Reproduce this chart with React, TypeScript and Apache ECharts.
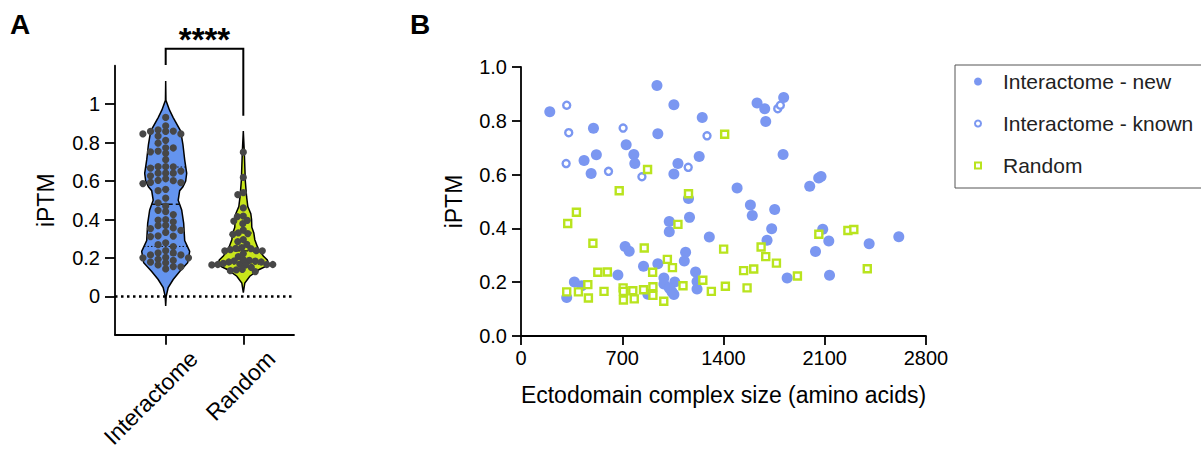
import { useEffect, useRef } from 'react';
import * as echarts from 'echarts';

// ---------- Panel B data: [ectodomain complex size (aa), iPTM] ----------
const interactomeNew: [number, number][] = [
  [199, 0.834], [501, 0.772], [436, 0.652], [521, 0.674], [485, 0.604], [727, 0.711], [780, 0.675],
  [787, 0.641], [940, 0.931], [946, 0.752], [1057, 0.86], [1085, 0.641], [1057, 0.602], [1253, 0.812],
  [1232, 0.667], [1158, 0.511], [1632, 0.866], [1685, 0.845], [1816, 0.887], [1692, 0.797], [1812, 0.675],
  [1494, 0.55], [1996, 0.557], [2058, 0.587], [2074, 0.593], [1586, 0.487], [1599, 0.448], [1754, 0.47],
  [1302, 0.368], [1733, 0.399], [1701, 0.356], [2086, 0.397], [2128, 0.353], [2036, 0.314], [2407, 0.343],
  [2612, 0.369], [1840, 0.216], [2133, 0.226], [1165, 0.441], [1025, 0.426], [1025, 0.388], [720, 0.333],
  [748, 0.315], [847, 0.259], [946, 0.269], [1138, 0.311], [1129, 0.279], [1207, 0.238], [670, 0.227],
  [988, 0.216], [1063, 0.201], [988, 0.193], [1217, 0.203], [1025, 0.178], [1044, 0.164], [1057, 0.154],
  [1217, 0.175], [877, 0.155], [369, 0.201], [420, 0.187], [316, 0.143],
];
const interactomeKnown: [number, number][] = [
  [316, 0.858], [330, 0.756], [312, 0.641], [605, 0.612], [706, 0.773], [836, 0.592], [1156, 0.627],
  [1286, 0.744], [1775, 0.845], [1793, 0.858],
];
const randomPairs: [number, number][] = [
  [323, 0.418], [383, 0.46], [497, 0.345], [531, 0.237], [597, 0.238], [679, 0.54], [875, 0.619],
  [1158, 0.529], [1408, 0.75], [1085, 0.415], [852, 0.327], [1012, 0.285], [1047, 0.254], [910, 0.237],
  [1120, 0.187], [912, 0.183], [847, 0.172], [706, 0.179], [708, 0.166], [773, 0.168], [708, 0.134],
  [783, 0.138], [574, 0.166], [987, 0.129], [912, 0.151], [1257, 0.207], [1316, 0.166], [316, 0.164],
  [397, 0.164], [466, 0.141], [462, 0.191], [1401, 0.323], [1660, 0.331], [1692, 0.295], [1766, 0.271],
  [1539, 0.243], [1609, 0.249], [1911, 0.223], [2059, 0.378], [2260, 0.392], [2301, 0.396], [2394, 0.25],
  [1413, 0.185], [1563, 0.179],
];

// ---------- Panel A data ----------
const violinCategories = ['Interactome', 'Random'];
const interactomeIptm = [...interactomeNew.map((p) => p[1]), ...interactomeKnown.map((p) => p[1])];
const randomIptm = randomPairs.map((p) => p[1]);
const dotGroups = [interactomeIptm, randomIptm];

// violin outline: iPTM level and relative density (kernel estimate)
const interactomeProfileValues = [1.12, 1.02, 0.97, 0.93, 0.86, 0.79, 0.71, 0.64, 0.6, 0.57, 0.55, 0.5, 0.45, 0.38, 0.29, 0.234, 0.175, 0.13, 0.088, 0.046, 0.0, -0.05];
const interactomeProfileDensity = [0, 0.01, 0.15, 0.3, 0.6, 0.69, 0.76, 0.84, 0.8, 0.69, 0.56, 0.5, 0.64, 0.72, 0.76, 0.96, 0.88, 0.56, 0.3, 0.1, 0.02, 0];
const randomProfileValues = [0.86, 0.75, 0.6, 0.52, 0.467, 0.43, 0.4, 0.36, 0.33, 0.295, 0.26, 0.243, 0.21, 0.19, 0.174, 0.155, 0.14, 0.105, 0.07, 0.02];
const randomProfileDensity = [0, 0.04, 0.08, 0.13, 0.18, 0.3, 0.33, 0.34, 0.42, 0.46, 0.56, 0.62, 0.8, 0.96, 1.0, 0.88, 0.64, 0.26, 0.06, 0];
const violinMedians = [0.479, 0.237];
const violinQuartiles = [[0.26, 0.673], [0.168, 0.33]];
const yTicksA = [0, 0.2, 0.4, 0.6, 0.8, 1];
const significance = '****';

// ---------- styles ----------
const FONT = '"Liberation Sans", Arial, Helvetica, sans-serif';
const BLUE = '#7B97F1';
const GREEN = '#B9E41E';
const VIOLIN_FILLS = ['#6494EE', '#C8E51C'];
const VIOLIN_HALF = 25;
const DOT_STEP = 7.6;
const DOT_D = 5.2;
const DOT_MIN_DIST = 5.6;

// column swarm (Interactome) and compact beeswarm (Random): returns pixel x-offsets
function columnSwarm(ys: number[]): number[] {
  const order = ys.map((_, i) => i).sort((a, b) => ys[a] - ys[b] || a - b);
  const placed: { k: number; y: number }[] = [];
  const xs = new Array(ys.length).fill(0);
  for (const i of order) {
    for (let t = 0; t < 60; t++) {
      const k = t === 0 ? 0 : t % 2 === 1 ? -Math.ceil(t / 2) : Math.ceil(t / 2);
      if (placed.every((p) => p.k !== k || Math.abs(p.y - ys[i]) >= DOT_D)) {
        xs[i] = k * DOT_STEP;
        placed.push({ k, y: ys[i] });
        break;
      }
    }
  }
  return xs;
}
function compactSwarm(ys: number[]): number[] {
  const order = ys.map((_, i) => i).sort((a, b) => ys[a] - ys[b] || a - b);
  const placed: { x: number; y: number }[] = [];
  const xs = new Array(ys.length).fill(0);
  for (const i of order) {
    for (let t = 0; t < 200; t++) {
      const x = t === 0 ? 0 : (t % 2 === 1 ? -1 : 1) * Math.ceil(t / 2) * 0.5;
      if (placed.every((p) => (p.x - x) ** 2 + (p.y - ys[i]) ** 2 >= DOT_MIN_DIST ** 2)) {
        xs[i] = x;
        placed.push({ x, y: ys[i] });
        break;
      }
    }
  }
  return xs;
}

export default function App() {
  const ref = useRef<HTMLDivElement>(null);
  useEffect(() => {
    const chart = echarts.init(ref.current!, null, { renderer: 'svg' });
    const profiles = [
      { v: interactomeProfileValues, d: interactomeProfileDensity },
      { v: randomProfileValues, d: randomProfileDensity },
    ];

    const renderViolin = (params: any, api: any) => {
      const idx = api.value(0);
      const p = profiles[idx];
      const cx = api.coord([idx, 0])[0];
      const right = p.v.map((v, i) => [cx + p.d[i] * VIOLIN_HALF, api.coord([idx, v])[1]]);
      const left = p.v.map((v, i) => [cx - p.d[i] * VIOLIN_HALF, api.coord([idx, v])[1]]).reverse();
      const halfAt = (val: number) => {
        for (let i = 0; i < p.v.length - 1; i++) {
          const a = p.v[i], b = p.v[i + 1];
          if (val <= a && val >= b) {
            const t = (a - val) / (a - b);
            return (p.d[i] + (p.d[i + 1] - p.d[i]) * t) * VIOLIN_HALF;
          }
        }
        return 0;
      };
      const hline = (val: number, dash: number[], lw: number) => {
        const y = api.coord([idx, val])[1];
        const h = halfAt(val);
        return { type: 'line', shape: { x1: cx - h, y1: y, x2: cx + h, y2: y }, style: { stroke: '#111', lineWidth: lw, lineDash: dash } };
      };
      return {
        type: 'group',
        children: [
          { type: 'polygon', shape: { points: right.concat(left) }, style: { fill: VIOLIN_FILLS[idx], stroke: '#000', lineWidth: 1.5 } },
          hline(violinMedians[idx], [5, 3], 1.4),
          hline(violinQuartiles[idx][0], [1.5, 2], 1),
          hline(violinQuartiles[idx][1], [1.5, 2], 1),
        ],
      };
    };

    const renderDot = (params: any, api: any) => {
      const cat = api.value(0);
      const vals = dotGroups[cat];
      const ys = vals.map((v) => api.coord([cat, v])[1]);
      const xs = cat === 0 ? columnSwarm(ys) : compactSwarm(ys);
      const local = params.dataIndex - (cat === 1 ? dotGroups[0].length : 0);
      const base = api.coord([cat, vals[local]]);
      return { type: 'circle', shape: { cx: base[0] + xs[local], cy: base[1], r: 3.6 }, style: { fill: '#474747' } };
    };

    const renderBracket = (params: any, api: any) => {
      const l = api.coord([0, 1.204]);
      const tl = api.coord([0, 1.288]);
      const tr = api.coord([1, 1.288]);
      const r = api.coord([1, 0.94]);
      const s = api.coord([0.5, 1.335]);
      return {
        type: 'group',
        children: [
          { type: 'polyline', shape: { points: [l, tl, tr, r] }, style: { stroke: '#000', lineWidth: 2, fill: null } },
          { type: 'text', x: s[0], y: s[1], style: { text: significance, fontSize: 33, fontWeight: 'bold', fontFamily: FONT, fill: '#000', align: 'center', verticalAlign: 'middle' } },
        ],
      };
    };

    const axisLineStyle = { color: '#000', width: 1.8 };
    const option: any = {
      animation: false,
      backgroundColor: '#fff',
      textStyle: { fontFamily: FONT },
      title: [
        { text: 'A', left: 10, top: 10, padding: 0, textStyle: { fontSize: 28, fontWeight: 'bold', color: '#000', fontFamily: FONT } },
        { text: 'B', left: 410, top: 10, padding: 0, textStyle: { fontSize: 28, fontWeight: 'bold', color: '#000', fontFamily: FONT } },
      ],
      legend: {
        orient: 'vertical', left: 955, top: 65, padding: [6, 12, 12, 19], itemGap: 21,
        itemWidth: 6, itemHeight: 6, borderColor: '#555', borderWidth: 1,
        textStyle: { fontSize: 21, color: '#222', fontFamily: FONT, padding: [0, 0, 0, 17] },
        selectedMode: false,
        data: [
          { name: 'Interactome - new', icon: 'circle', itemStyle: { color: BLUE, borderColor: BLUE, borderWidth: 2 } },
          { name: 'Interactome - known', icon: 'circle', itemStyle: { color: '#fff', borderColor: BLUE, borderWidth: 2 } },
          { name: 'Random', icon: 'rect', itemStyle: { color: '#fff', borderColor: GREEN, borderWidth: 2 } },
        ],
      },
      grid: [
        { left: 115, top: 65.7, width: 179, height: 270 },
        { left: 521, top: 67, width: 405, height: 269 },
      ],
      xAxis: [
        {
          type: 'value', gridIndex: 0, min: -0.653, max: 1.653,
          axisLine: { show: true, onZero: false, lineStyle: axisLineStyle },
          axisTick: { show: true, customValues: [0, 1], length: 10, lineStyle: axisLineStyle },
          axisLabel: { customValues: [0.36, 1.36], rotate: 45, margin: 20, fontSize: 23, color: '#000', fontFamily: FONT,
            formatter: (v: number) => (v < 1 ? violinCategories[0] : violinCategories[1]) },
          splitLine: { show: false },
        },
        {
          type: 'value', gridIndex: 1, min: 0, max: 2800, interval: 700,
          axisLine: { show: true, onZero: false, lineStyle: axisLineStyle },
          axisTick: { show: true, length: 9, lineStyle: axisLineStyle },
          axisLabel: { margin: 12, fontSize: 20, color: '#000', fontFamily: FONT, formatter: (v: number) => String(v) },
          splitLine: { show: false },
          name: 'Ectodomain complex size (amino acids)', nameLocation: 'middle', nameGap: 47,
          nameTextStyle: { fontSize: 23, color: '#000', fontFamily: FONT },
        },
      ],
      yAxis: [
        {
          type: 'value', gridIndex: 0, min: -0.2, max: 1.2,
          axisLine: { show: true, onZero: false, lineStyle: axisLineStyle },
          axisTick: { show: true, customValues: yTicksA, length: 10, lineStyle: axisLineStyle },
          axisLabel: { customValues: yTicksA, margin: 15, fontSize: 20, color: '#000', fontFamily: FONT, formatter: (v: number) => String(v) },
          splitLine: { show: false },
          name: 'iPTM', nameLocation: 'middle', nameGap: 58,
          nameTextStyle: { fontSize: 23, color: '#000', fontFamily: FONT },
        },
        {
          type: 'value', gridIndex: 1, min: 0, max: 1, interval: 0.2,
          axisLine: { show: true, onZero: false, lineStyle: axisLineStyle },
          axisTick: { show: true, length: 9, lineStyle: axisLineStyle },
          axisLabel: { margin: 14, fontSize: 20, color: '#000', fontFamily: FONT, formatter: (v: number) => v.toFixed(1) },
          splitLine: { show: false },
          name: 'iPTM', nameLocation: 'middle', nameGap: 56,
          nameTextStyle: { fontSize: 23, color: '#000', fontFamily: FONT },
        },
      ],
      series: [
        {
          type: 'custom', name: 'violin', xAxisIndex: 0, yAxisIndex: 0, clip: false, z: 2,
          data: [[0, 0], [1, 0]], encode: { x: 0, y: 1 }, renderItem: renderViolin, silent: true,
        },
        {
          type: 'custom', name: 'dots', xAxisIndex: 0, yAxisIndex: 0, clip: false, z: 4,
          data: [...interactomeIptm.map((v) => [0, v]), ...randomIptm.map((v) => [1, v])],
          encode: { x: 0, y: 1 }, renderItem: renderDot, silent: true,
          markLine: {
            silent: true, symbol: ['none', 'none'], label: { show: false },
            lineStyle: { color: '#000', width: 2.5, type: [2.5, 3.5] },
            data: [{ yAxis: 0 }],
          },
        },
        {
          type: 'custom', name: 'bracket', xAxisIndex: 0, yAxisIndex: 0, clip: false, z: 5,
          data: [[0.5, 1.288]], encode: { x: 0, y: 1 }, renderItem: renderBracket, silent: true,
        },
        {
          name: 'Interactome - new', type: 'scatter', xAxisIndex: 1, yAxisIndex: 1, data: interactomeNew,
          symbol: 'circle', symbolSize: 11, itemStyle: { color: BLUE, opacity: 1 }, z: 2,
        },
        {
          name: 'Interactome - known', type: 'scatter', xAxisIndex: 1, yAxisIndex: 1, data: interactomeKnown,
          symbol: 'circle', symbolSize: 7, itemStyle: { color: '#fff', borderColor: BLUE, borderWidth: 2.4, opacity: 1 }, z: 3,
        },
        {
          name: 'Random', type: 'scatter', xAxisIndex: 1, yAxisIndex: 1, data: randomPairs,
          symbol: 'rect', symbolSize: 7, itemStyle: { color: '#fff', borderColor: GREEN, borderWidth: 2.4, opacity: 1 }, z: 4,
        },
      ],
    };
    chart.setOption(option);
    return () => chart.dispose();
  }, []);
  return <div ref={ref} style={{ position: 'fixed', left: 0, top: 0, width: 1201, height: 451, background: '#fff' }} />;
}
